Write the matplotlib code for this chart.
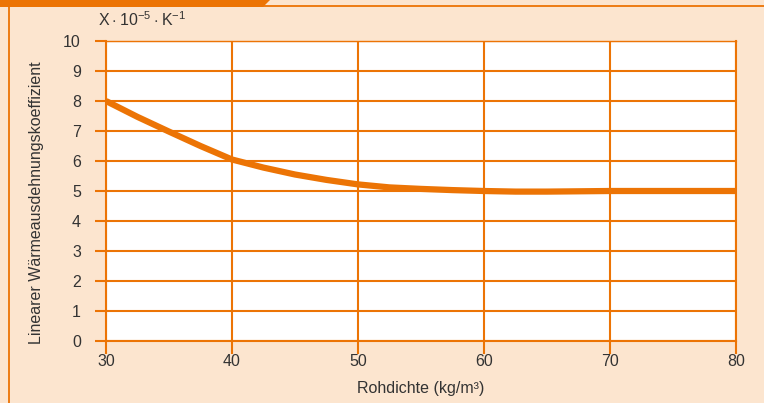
import matplotlib.pyplot as plt
import matplotlib.patches as patches

ORANGE = "#ec7405"
PEACH = "#fce5cf"
TEXT = "#333333"

# Rohdichte (kg/m3) vs. linear thermal expansion coefficient (x 10^-5 K^-1)
density = [30, 32.5, 35, 37.5, 40, 42.5, 45, 47.5, 50, 52.5, 55, 57.5, 60,
           62.5, 65, 70, 75, 80]
coefficient = [8.0, 7.47, 6.98, 6.5, 6.05, 5.78, 5.55, 5.37, 5.22, 5.12,
               5.07, 5.03, 5.0, 4.98, 4.98, 5.0, 5.0, 5.0]

x_ticks = [30, 40, 50, 60, 70, 80]
y_ticks = list(range(0, 11))

plt.rcParams["font.family"] = ["Liberation Sans", "DejaVu Sans"]
plt.rcParams["mathtext.fontset"] = "custom"
plt.rcParams["mathtext.rm"] = "Liberation Sans"

W, H = 764, 403
FS = 11.5
fig = plt.figure(figsize=(W / 100, H / 100), dpi=100)
fig.patch.set_facecolor(PEACH)

# decorative frame: top tab, top rule, left rule
fig.add_artist(patches.Polygon(
    [(0, 1), (270 / W, 1), (263 / W, 1 - 7 / H), (0, 1 - 7 / H)],
    closed=True, transform=fig.transFigure, facecolor=ORANGE, edgecolor="none"))
fig.add_artist(plt.Line2D([0, 1], [1 - 5.5 / H] * 2, color=ORANGE, lw=1.3,
                          transform=fig.transFigure))
fig.add_artist(plt.Line2D([9 / W] * 2, [0, 1 - 6 / H], color=ORANGE, lw=1.3,
                          transform=fig.transFigure))

ax = fig.add_axes([106 / W, (H - 341) / H, 630 / W, 300 / H])
ax.set_facecolor("white")
ax.plot(density, coefficient, color=ORANGE, lw=4.5, solid_capstyle="butt", zorder=3)

ax.set_xlim(30, 80)
ax.set_ylim(0, 10)
ax.set_xticks(x_ticks)
ax.set_yticks(y_ticks)
ax.grid(True, color=ORANGE, lw=1.5)
ax.tick_params(axis="both", colors=ORANGE, labelcolor=TEXT, labelsize=FS,
               width=1.5)
ax.tick_params(axis="y", length=8, pad=10)
ax.tick_params(axis="x", length=9, pad=0)
for side, spine in ax.spines.items():
    spine.set_color(ORANGE)
    spine.set_linewidth(1.5)
ax.spines["top"].set_linewidth(1.0)

ax.set_xlabel("Rohdichte (kg/m³)", color=TEXT, fontsize=FS, labelpad=9)
ax.set_ylabel("Linearer Wärmeausdehnungskoeffizient", color=TEXT, fontsize=FS)
ax.yaxis.set_label_coords(-0.098, 0.46)

fig.text(98 / W, 1 - 20 / H, r"$\mathrm{X \cdot 10^{-5} \cdot K^{-1}}$",
         color=TEXT, fontsize=FS, va="center", ha="left")

fig.savefig("out.png", dpi=100, facecolor=PEACH)
